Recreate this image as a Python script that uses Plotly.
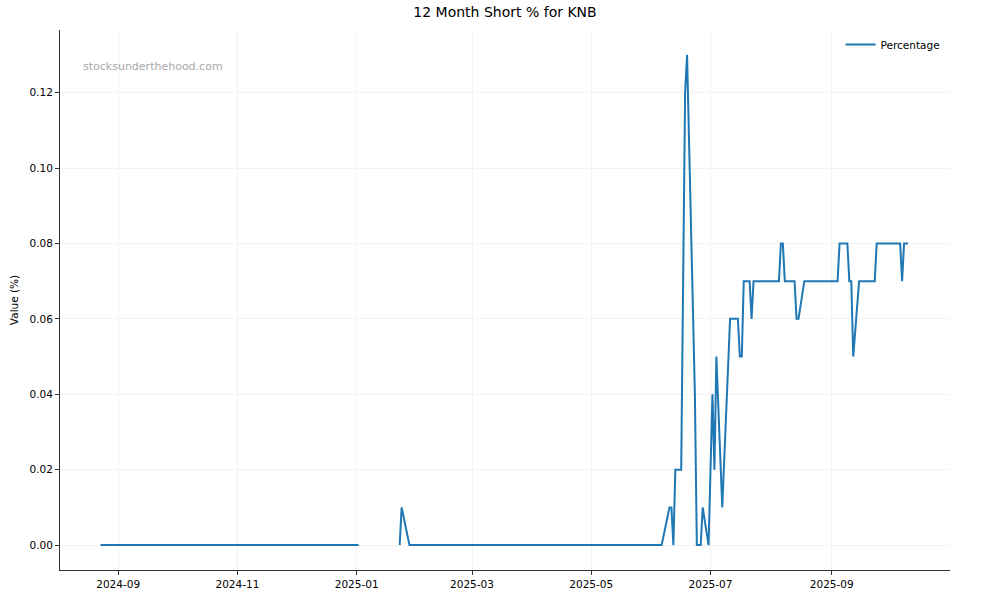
import plotly.graph_objects as go

# Data
dates = [
    "2024-08-23", "2025-01-02", None,
    "2025-01-23", "2025-01-24", "2025-01-28",
    "2025-06-06", "2025-06-10", "2025-06-11", "2025-06-12", "2025-06-13",
    "2025-06-16", "2025-06-18", "2025-06-19", "2025-06-23", "2025-06-24",
    "2025-06-26", "2025-06-27", "2025-06-30", "2025-07-02", "2025-07-03",
    "2025-07-04", "2025-07-07", "2025-07-11", "2025-07-15", "2025-07-16",
    "2025-07-17", "2025-07-18", "2025-07-21", "2025-07-22", "2025-07-23",
    "2025-08-05", "2025-08-06", "2025-08-07", "2025-08-08", "2025-08-13",
    "2025-08-14", "2025-08-15", "2025-08-18", "2025-09-04", "2025-09-05",
    "2025-09-09", "2025-09-10", "2025-09-11", "2025-09-12", "2025-09-15",
    "2025-09-23", "2025-09-24", "2025-10-06", "2025-10-07", "2025-10-08",
    "2025-10-10",
]
gap_date = "2025-01-10"
values = [
    0.0, 0.0, None,
    0.0, 0.01, 0.0,
    0.0, 0.01, 0.01, 0.0, 0.02,
    0.02, 0.12, 0.13, 0.04, 0.0,
    0.0, 0.01, 0.0, 0.04, 0.02,
    0.05, 0.01, 0.06, 0.06, 0.05,
    0.05, 0.07, 0.07, 0.06, 0.07,
    0.07, 0.08, 0.08, 0.07, 0.07,
    0.06, 0.06, 0.07, 0.07, 0.08,
    0.08, 0.07, 0.07, 0.05, 0.07,
    0.07, 0.08, 0.08, 0.07, 0.08,
    0.08,
]
x_dates = [d if d is not None else gap_date for d in dates]

title = "12 Month Short % for KNB"
series_name = "Percentage"
y_label = "Value (%)"
watermark = "stocksunderthehood.com"

FONT = "DejaVu Sans"
AX = "#333333"
GRID = "#f3f3f3"

fig = go.Figure()
fig.add_trace(go.Scatter(
    x=x_dates, y=values, mode="lines", name=series_name,
    line=dict(color="#1f77b4", width=2), connectgaps=False,
))

fig.update_layout(
    width=1000, height=600,
    margin=dict(l=60, r=50, t=30, b=30, autoexpand=False),
    paper_bgcolor="white", plot_bgcolor="white",
    font=dict(family=FONT, size=10.5, color="#000000"),
    title=dict(text=title, x=0.5, xref="paper", xanchor="center",
               y=1 - 12.5 / 600, yref="container", yanchor="middle",
               font=dict(family=FONT, size=14, color="#000000")),
    showlegend=True,
    legend=dict(x=0.995, y=1.0, xanchor="right", yanchor="top",
                bgcolor="rgba(255,255,255,0)", borderwidth=0,
                font=dict(family=FONT, size=10.5, color="#000000"),
                itemwidth=30),
    annotations=[dict(text=watermark, xref="paper", yref="paper",
                      x=0.0236, y=0.933, xanchor="left", yanchor="middle",
                      showarrow=False,
                      font=dict(family=FONT, size=11, color="#a8a8a8"))],
)

fig.update_xaxes(
    type="date",
    range=["2024-08-02 06:00", "2025-10-31 12:00"],
    tick0="2024-09-01", dtick="M2", tickformat="%Y-%m",
    showgrid=True, gridcolor=GRID, gridwidth=1,
    showline=True, linecolor=AX, linewidth=1, mirror=False,
    ticks="outside", ticklen=4, tickcolor=AX, tickwidth=1,
    zeroline=False,
    tickfont=dict(family=FONT, size=10.5, color="#000000"),
)
fig.update_yaxes(
    range=[-0.0066, 0.1366],
    tick0=0, dtick=0.02, tickformat=".2f",
    showgrid=True, gridcolor=GRID, gridwidth=1,
    showline=True, linecolor=AX, linewidth=1, mirror=False,
    ticks="outside", ticklen=4, tickcolor=AX, tickwidth=1,
    zeroline=False,
    title=dict(text=y_label, standoff=8,
               font=dict(family=FONT, size=10.5, color="#000000")),
    tickfont=dict(family=FONT, size=10.5, color="#000000"),
)

fig.write_html(
    "out.html",
    config={"displayModeBar": False},
    post_script="document.body.style.margin='0';document.body.style.overflow='hidden';",
)
